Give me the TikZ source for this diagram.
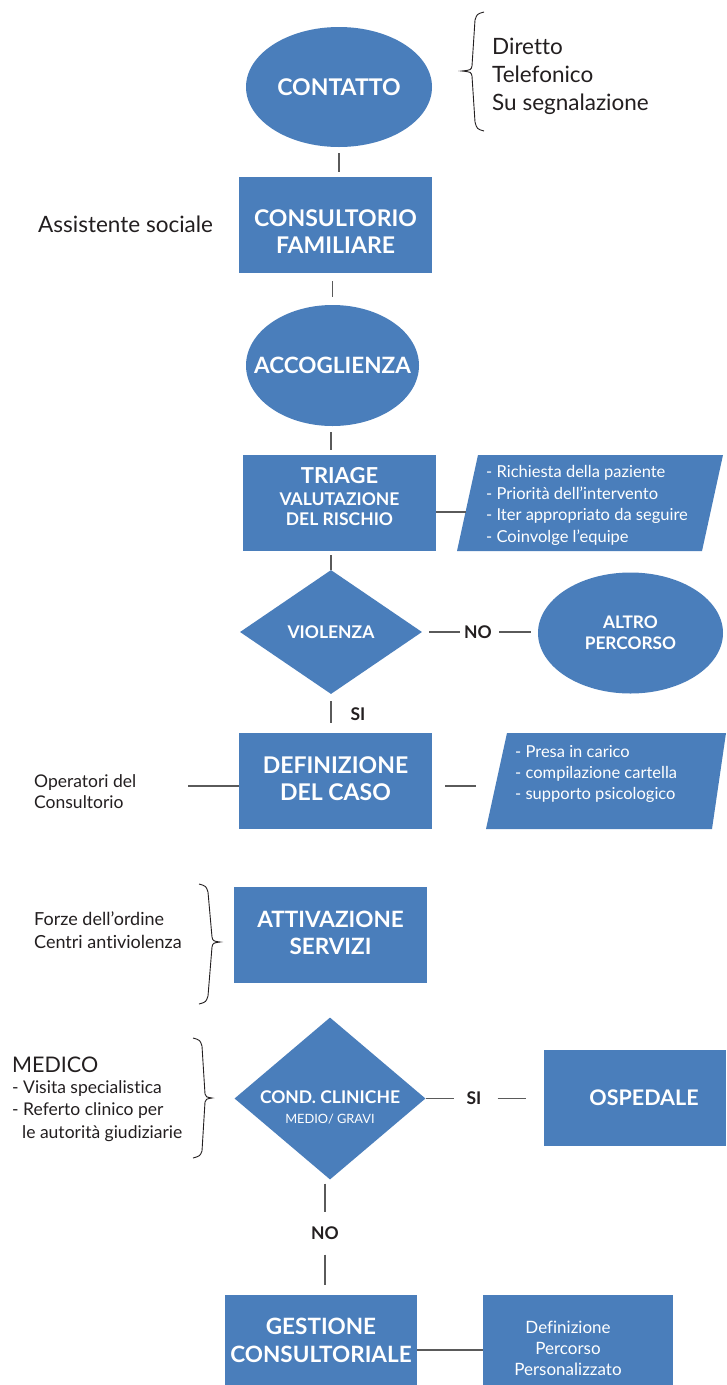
\documentclass[tikz,border=0pt]{standalone}
\usepackage{fontspec}
\setmainfont{Lato}[Ligatures=NoCommon]
\usetikzlibrary{shapes.geometric}
\definecolor{bl}{HTML}{4A7EBB}
\definecolor{ln}{HTML}{5A5A5A}
\definecolor{tx}{HTML}{231F20}
\newcommand\fz[2]{\fontsize{#1}{#2}\selectfont}
\newcommand\up[1]{\rule{0pt}{#1}}
\newcommand\dn[1]{\rule[-#1]{0pt}{0pt}}
\newcommand\pad[1]{\rule{#1}{0pt}}
\begin{document}
\begin{tikzpicture}[x=1pt,y=-1pt,
  blk/.style={fill=bl, draw=none, text=white, font=\bfseries, align=center, inner sep=0pt},
  ell/.style={blk, ellipse},
  rct/.style={blk, rectangle},
  dia/.style={blk, diamond},
  conn/.style={draw=ln, line width=1.4pt},
  brc/.style={draw=tx, line width=0.9pt},
  lab/.style={text=tx, inner sep=0pt, align=left, anchor=base west},
  yn/.style={text=tx, font=\bfseries\fz{17.5}{19}, inner sep=0pt},
  par/.style={fill=bl, draw=none},
  ptxt/.style={text=white, inner sep=0pt, align=left, anchor=base west, font=\fz{16.5}{21.5}}
]
\path[use as bounding box, fill=white] (0,0) rectangle (726,1385);

% main nodes
\node[ell, minimum width=186pt, minimum height=120pt, font=\bfseries\fz{23}{27}] (contatto) at (339,87) {\makebox[0pt]{CONTATTO}};
\node[rct, minimum width=193pt, minimum height=96pt, font=\bfseries\fz{23}{27}] (consult) at (335.5,225) {\up{29pt}CONSULTORIO\\FAMILIARE};
\node[ell, minimum width=173pt, minimum height=121pt, font=\bfseries\fz{22.5}{27}] (accogl) at (332.5,365.5) {\makebox[0pt]{ACCOGLIENZA}};
\node[rct, minimum width=193pt, minimum height=96pt, font=\bfseries\fz{17.5}{20}] (triage) at (339.5,503) {{\fz{22}{23}TRIAGE}\\[2pt]VALUTAZIONE\\DEL RISCHIO\dn{13pt}};
\node[dia, minimum width=182pt, minimum height=124pt, font=\bfseries\fz{17.5}{20}] (viol) at (331,632) {\makebox[0pt]{VIOLENZA}};
\node[ell, minimum width=185pt, minimum height=121pt, font=\bfseries\fz{17.3}{21}] (altro) at (630.5,633) {\makebox[0pt]{ALTRO}\\\makebox[0pt]{PERCORSO}};
\node[rct, minimum width=193pt, minimum height=96pt, font=\bfseries\fz{23}{27}] (defin) at (335.5,781) {DEFINIZIONE\\DEL CASO\dn{5pt}};
\node[rct, minimum width=193pt, minimum height=96pt, font=\bfseries\fz{22.5}{27}] (attiv) at (330.5,935) {ATTIVAZIONE\\SERVIZI\dn{5pt}};
\node[dia, minimum width=191pt, minimum height=162pt, font=\bfseries\fz{17.5}{19}] (cond) at (330,1098.5) {\up{30pt}\makebox[0pt]{COND. CLINICHE}\\[1pt]{\mdseries\fz{12.8}{15}\makebox[0pt]{MEDIO/ GRAVI}}};
\node[rct, minimum width=182pt, minimum height=96pt, font=\bfseries\fz{21.5}{27}] (osped) at (635,1098) {\kern18pt OSPEDALE};
\node[rct, minimum width=192pt, minimum height=91pt, font=\bfseries\fz{22.5}{28}] (gest) at (321,1340.5) {GESTIONE\\CONSULTORIALE};
\node[rct, minimum width=190pt, minimum height=91pt, font=\mdseries\fz{17}{21}] (pers) at (578,1340.5) {\up{29pt}Definizione\pad{20pt}\\Percorso\pad{20pt}\\Personalizzato\pad{20pt}};

% parallelograms
\path[par] (478,455) -- (723,455) -- (702,551) -- (457,551) -- cycle;
\node[ptxt] (p1t) at (486,542) {- Richiesta della paziente\\- Priorità dell’intervento\\- Iter appropriato da seguire\\- Coinvolge l’equipe};
\path[par] (507,733) -- (726,733) -- (712,829) -- (486,829) -- cycle;
\node[ptxt, font=\fz{16.5}{21}] (p2t) at (515,799) {- Presa in carico\\- compilazione cartella\\- supporto psicologico};
\coordinate (p1l) at (465.5,512);
\coordinate (p2l) at (496,786);
\coordinate (opl) at (188,786);

% side labels
\node[lab, font=\fz{22.5}{28}] (modi) at (492,110) {Diretto\\Telefonico\\Su segnalazione};
\node[lab, font=\fz{22.5}{28}] (assist) at (38,232) {Assistente sociale};
\node[lab, font=\fz{17.5}{21}] (oper) at (34,808) {Operatori del\\Consultorio};
\node[lab, font=\fz{18}{23}] (forze) at (34,948) {Forze dell’ordine\\Centri antiviolenza};
\node[lab, font=\fz{21.5}{22}] (medico) at (12,1072) {MEDICO};
\node[lab, font=\fz{17.5}{22.5}] (medlist) at (12,1138) {- Visita specialistica\\- Referto clinico per\\\hspace*{10pt}le autorità giudiziarie};

% yes/no labels
\node[yn] (no1) at (478,632) {NO};
\node[yn] (si1) at (358,714) {SI};
\node[yn] (si2) at (474,1098.5) {SI};
\node[yn] (no2) at (325,1233) {NO};

% connectors
\draw[conn, shorten <=6pt, shorten >=5pt] (contatto.south) -- (contatto.south |- consult.north);
\draw[conn, shorten <=8pt, shorten >=8pt] (accogl.north |- consult.south) -- (accogl.north);
\draw[conn, shorten <=6pt, shorten >=5pt] (viol.north |- accogl.south) -- (viol.north |- triage.north);
\draw[conn, shorten <=4pt] (viol.north |- triage.south) -- (viol.north);
\draw[conn, shorten <=7pt, shorten >=10pt] (viol.south) -- (viol.south |- defin.north);
\draw[conn, shorten <=7pt, shorten >=4pt] (viol.east) -- (no1.west);
\draw[conn, shorten <=7pt, shorten >=7pt] (no1.east) -- (no1.east -| altro.west);
\draw[conn] (triage.east |- p1l) -- (p1l);
\draw[conn] (opl) -- (defin.west |- opl);
\draw[conn, shorten <=13pt, shorten >=20pt] (defin.east |- p2l) -- (p2l);
\draw[conn, shorten >=12pt] (cond.east) -- (cond.east -| si2.west);
\draw[conn, shorten <=16pt, shorten >=18pt] (si2.east) -- (si2.east -| osped.west);
\draw[conn, shorten <=4pt, shorten >=14pt] (cond.south -| no2) -- (no2.north);
\draw[conn, shorten <=15pt, shorten >=10pt] (no2.south) -- (no2 |- gest.north);
\draw[conn] (gest.east |- 0,1350) -- (pers.west |- 0,1350);

% braces
\draw[brc] (484,12) .. controls (477,14) .. (475,20) -- (472,66) .. controls (471,70) .. (462,71)
           .. controls (471,72) .. (472,76) -- (475,122) .. controls (477,129) .. (484,131);
\draw[brc] (199,884) .. controls (206,886) .. (208,892) -- (212,937) .. controls (213,941) .. (220,942)
           .. controls (213,943) .. (212,947) -- (208,996) .. controls (206,1002) .. (199,1004);
\draw[brc] (193,1038) .. controls (200,1040) .. (202,1046) -- (205,1094) .. controls (206,1097) .. (212,1098)
           .. controls (206,1099) .. (205,1102) -- (202,1151) .. controls (200,1156) .. (193,1158);
\end{tikzpicture}
\end{document}
